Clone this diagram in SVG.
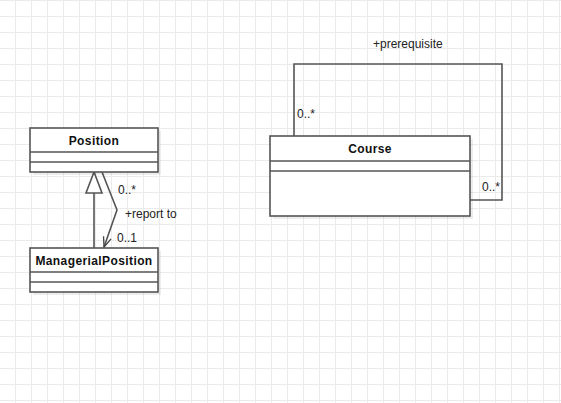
<svg xmlns="http://www.w3.org/2000/svg" width="561" height="403" viewBox="0 0 561 403">
<defs>
<pattern id="grid" x="15" y="16" width="16" height="16" patternUnits="userSpaceOnUse">
<path d="M0 0.5 H16 M0.5 0 V16" fill="none" stroke="#ebebeb" stroke-width="1"/>
</pattern>
<marker id="open" viewBox="0 0 12 12" refX="11" refY="6" markerWidth="12" markerHeight="12" markerUnits="userSpaceOnUse" orient="auto">
<path d="M1 2 L11 6 L1 10" fill="none" stroke="#444" stroke-width="1.3"/>
</marker>
<style>
.box{fill:#fff;stroke:#555;stroke-width:1.6}
.shadow{fill:#000;opacity:0.07}
.div{stroke:#555;stroke-width:1.6}
.name{font-family:"Liberation Sans",Arial,sans-serif;font-size:12px;font-weight:bold;letter-spacing:0.4px;fill:#111;text-anchor:middle}
.lbl{font-family:"Liberation Sans",Arial,sans-serif;font-size:12px;fill:#222}
.edge{fill:none;stroke:#555;stroke-width:1.6}
</style>
</defs>
<rect width="561" height="403" fill="#fff"/>
<rect width="561" height="403" fill="url(#grid)"/>

<g id="connectors">
<path class="edge" d="M294 136 V64 H502 V200 H470"/>
<path class="edge" d="M94 248 V193"/>
<polygon class="box" points="94,172 86,193 102,193"/>
<path class="edge" d="M102 172 L117 210 L104 247" marker-end="url(#open)"/>
<text class="lbl" x="373" y="48">+prerequisite</text>
<text class="lbl" x="297" y="118">0..*</text>
<text class="lbl" x="482" y="191">0..*</text>
<text class="lbl" x="118" y="193.5">0..*</text>
<text class="lbl" x="125" y="217.5">+report to</text>
<text class="lbl" x="117" y="241.5">0..1</text>
</g>

<g id="position">
<rect class="shadow" x="33" y="131" width="128" height="44"/>
<rect class="box" x="30" y="128" width="128" height="44"/>
<line class="div" x1="30" y1="152" x2="158" y2="152"/>
<line class="div" x1="30" y1="162" x2="158" y2="162"/>
<text class="name" x="94" y="144.5">Position</text>
</g>

<g id="managerialposition">
<rect class="shadow" x="33" y="251" width="128" height="44"/>
<rect class="box" x="30" y="248" width="128" height="44"/>
<line class="div" x1="30" y1="272" x2="158" y2="272"/>
<line class="div" x1="30" y1="282" x2="158" y2="282"/>
<text class="name" x="94" y="264.5">ManagerialPosition</text>
</g>

<g id="course">
<rect class="shadow" x="273" y="139" width="200" height="80"/>
<rect class="box" x="270" y="136" width="200" height="80"/>
<line class="div" x1="270" y1="161" x2="470" y2="161"/>
<line class="div" x1="270" y1="171" x2="470" y2="171"/>
<text class="name" x="370" y="153">Course</text>
</g>
</svg>
